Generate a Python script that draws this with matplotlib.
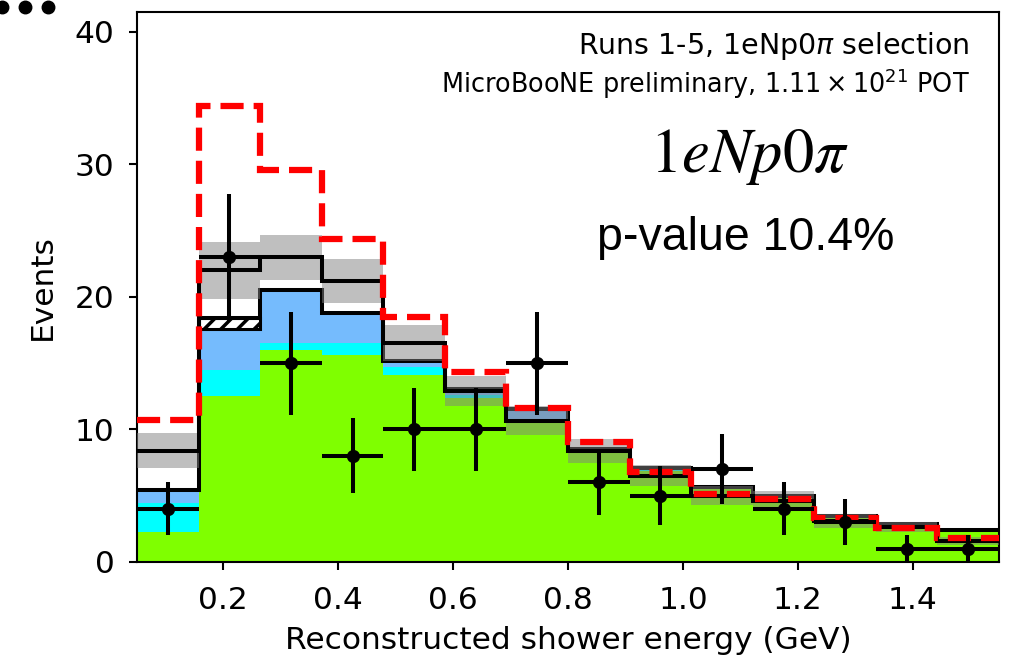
import numpy as np
import matplotlib
matplotlib.use("Agg")
import matplotlib.pyplot as plt
from matplotlib.lines import Line2D

# binning: 14 bins between 0.05 and 1.55 GeV
bin_lo, bin_hi, n_bins = 0.05, 1.55, 14

data_counts = [4, 23, 15, 8, 10, 10, 15, 6, 5, 7, 4, 3, 1, 1]

# stacked MC components (heights per bin)
green_comp = [2.3, 12.5, 16.0, 15.6, 14.1, 12.4, 10.65, 8.25, 6.9, 5.5, 4.8, 3.3, 2.7, 2.25]
cyan_comp = [2.15, 2.0, 0.5, 0.9, 0.6, 0.2, 0.15, 0.1, 0.1, 0.1, 0.07, 0.08, 0.08, 0.08]
blue_comp = [0.95, 3.1, 4.0, 2.3, 0.5, 0.45, 0.75, 0.15, 0.1, 0.08, 0.08, 0.07, 0.07, 0.07]
hatch_comp = [0, 0.8, 0, 0, 0, 0, 0, 0, 0, 0, 0, 0, 0, 0]

# second prediction with its uncertainty band
pred_line = [8.4, 22.0, 23.0, 21.2, 16.5, 12.9, 10.65, 8.35, 6.5, 5.0, 4.6, 3.1, 2.67, 1.57]
pred_err = [1.3, 2.15, 1.7, 1.65, 1.35, 1.15, 1.1, 0.9, 0.8, 0.72, 0.75, 0.55, 0.37, 0.32]

# red dashed alternative model
red_line = [10.7, 34.4, 29.6, 24.4, 18.5, 14.35, 11.65, 9.05, 6.8, 5.15, 4.75, 3.35, 2.6, 1.8]

edges = np.linspace(bin_lo, bin_hi, n_bins + 1)
centers = 0.5 * (edges[:-1] + edges[1:])
bw = edges[1] - edges[0]

fig = plt.figure(figsize=(10.12, 6.58), dpi=100)
ax = fig.add_axes([0.1354, 0.1459, 0.8518, 0.8359])

g = np.array(green_comp)
c = np.array(cyan_comp)
b = np.array(blue_comp)
h = np.array(hatch_comp)

ax.stairs(g, edges, baseline=0, fill=True, color="#7fff00", lw=0, zorder=1)
ax.stairs(g + c, edges, baseline=g, fill=True, color="#00ffff", lw=0, zorder=1)
ax.stairs(g + c + b, edges, baseline=g + c, fill=True, color="#75bbfd", lw=0, zorder=1)

plt.rcParams["hatch.linewidth"] = 2.5
m = h > 0
ax.bar(centers[m], h[m], width=bw, bottom=(g + c + b)[m], facecolor="white",
       edgecolor="black", hatch="//", lw=2.2, zorder=2)

stack_top = g + c + b + h
ax.stairs(stack_top, edges, baseline=None, color="black", lw=2.9, zorder=3)

p = np.array(pred_line)
e = np.array(pred_err)
ax.fill_between(edges, np.append(p - e, (p - e)[-1]), np.append(p + e, (p + e)[-1]),
                step="post", color="grey", alpha=0.5, lw=0, zorder=4)
ax.stairs(p, edges, baseline=None, color="black", lw=2.9, zorder=5)

ax.stairs(red_line, edges, baseline=None, color="red", ls="--", lw=4.5, zorder=6)

d = np.array(data_counts)
ax.errorbar(centers, d, xerr=bw / 2, yerr=np.sqrt(d), fmt="o", color="black",
            ms=8.5, elinewidth=2.9, capsize=0, zorder=7)

ax.set_xlim(bin_lo, bin_hi)
ax.set_ylim(0, 41.5)
ax.set_xticks([0.2, 0.4, 0.6, 0.8, 1.0, 1.2, 1.4])
ax.set_yticks([0, 10, 20, 30, 40])
ax.tick_params(labelsize=22.5, length=6, width=1.5)
ax.tick_params(axis="x", pad=11)
ax.tick_params(axis="y", pad=10)
for s in ax.spines.values():
    s.set_linewidth(1.5)
ax.set_xlabel("Reconstructed shower energy (GeV)", fontsize=22.5, labelpad=8)
ax.set_ylabel("Events", fontsize=22.5, labelpad=13)

ax.text(0.966, 0.938, r"Runs 1-5, 1eNp0$\pi$ selection", transform=ax.transAxes,
        ha="right", va="center", fontsize=20.5)
ax.text(0.966, 0.869, r"MicroBooNE preliminary, $1.11 \times 10^{21}$ POT",
        transform=ax.transAxes, ha="right", va="center", fontsize=18.4)
ax.text(0.71, 0.7096, r"$1eNp0\pi$", transform=ax.transAxes, ha="center",
        va="baseline", fontsize=45, math_fontfamily="stix")
ax.text(0.7065, 0.567, "p-value 10.4%", transform=ax.transAxes, ha="center",
        va="baseline", fontsize=33.5, family="Liberation Sans")

# the three dots in the top-left corner of the screenshot
fig.add_artist(Line2D([0.002, 0.025, 0.0475], [0.989, 0.989, 0.989], ls="none",
                      marker="o", ms=9, color="black", transform=fig.transFigure))

fig.savefig("out.png", dpi=100)
